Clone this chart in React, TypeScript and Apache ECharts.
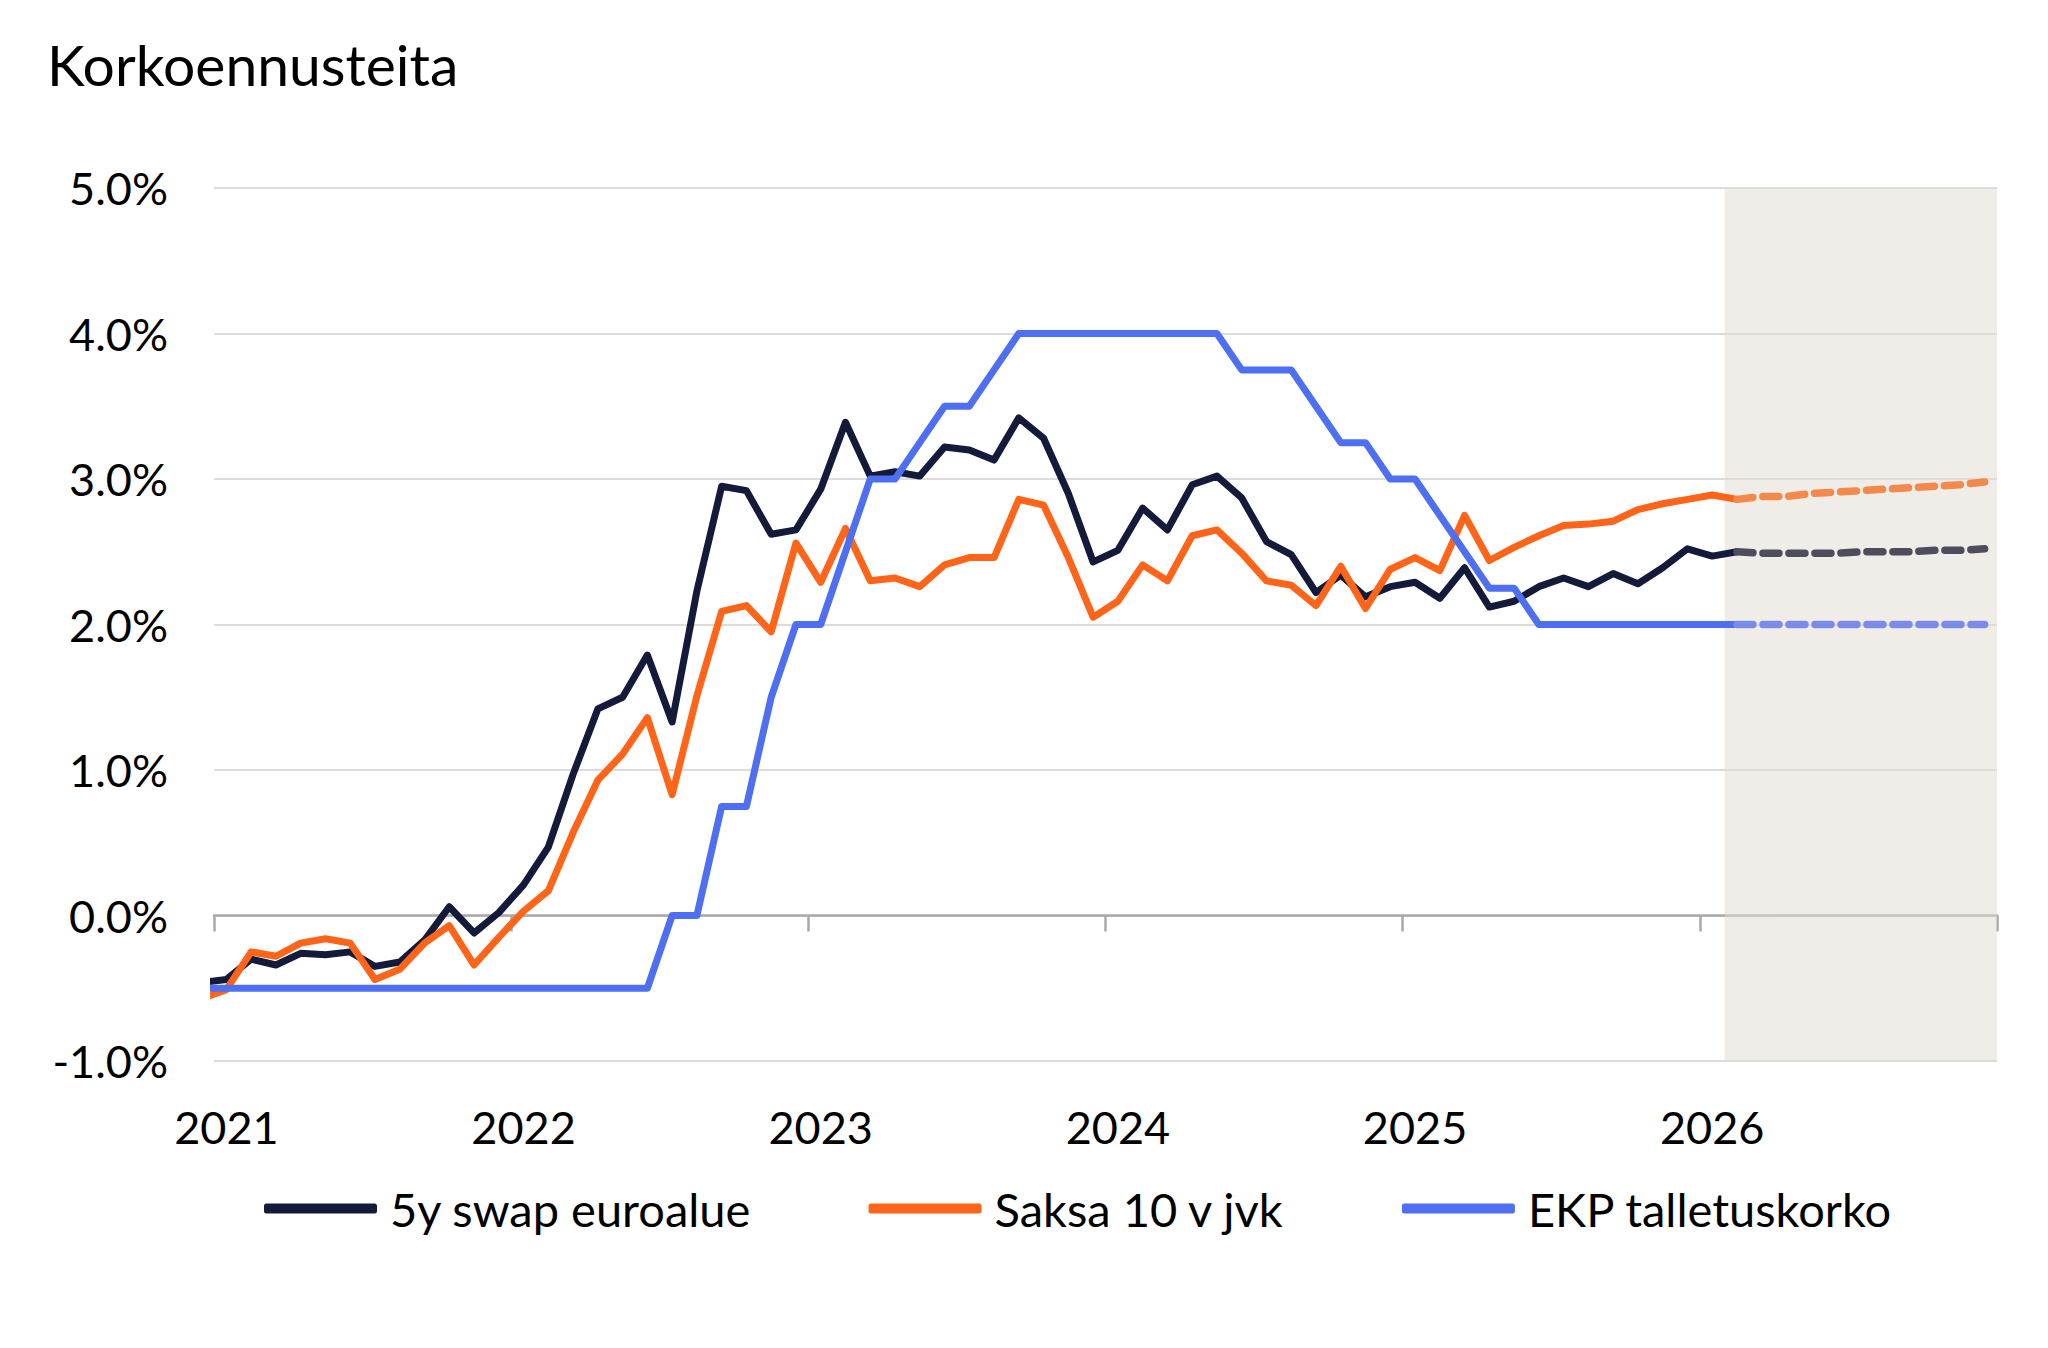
import React, { useEffect, useRef } from 'react';
import * as echarts from 'echarts';

// Month index of the first value (-1 = December 2020, 0 = January 2021)
const firstMonth = -1;
const forecastFirstMonth = 61;
const yearLabels = ['2021', '2022', '2023', '2024', '2025', '2026'];
const yMin = -1;
const yMax = 5;

const names = ['5y swap euroalue', 'Saksa 10 v jvk', 'EKP talletuskorko'];

const swap5y = [
  -0.46, -0.44, -0.30, -0.34, -0.26, -0.27, -0.25, -0.35, -0.32, -0.17, 0.06, -0.12, 0.02,
  0.21, 0.47, 0.97, 1.42, 1.50, 1.79, 1.33, 2.23, 2.95, 2.92, 2.62, 2.65,
  2.93, 3.39, 3.02, 3.05, 3.02, 3.22, 3.20, 3.13, 3.42, 3.28, 2.90, 2.43,
  2.51, 2.80, 2.65, 2.96, 3.02, 2.87, 2.57, 2.48, 2.22, 2.34, 2.19, 2.26,
  2.29, 2.18, 2.39, 2.12, 2.16, 2.26, 2.32, 2.26, 2.35, 2.28, 2.39, 2.52,
  2.47, 2.50,
];

const bund10 = [
  -0.57, -0.51, -0.25, -0.28, -0.19, -0.16, -0.19, -0.44, -0.37, -0.19, -0.07, -0.34, -0.15,
  0.03, 0.17, 0.57, 0.93, 1.11, 1.36, 0.83, 1.51, 2.09, 2.13, 1.95, 2.56,
  2.29, 2.66, 2.30, 2.32, 2.26, 2.41, 2.46, 2.46, 2.86, 2.82, 2.46, 2.05,
  2.16, 2.41, 2.30, 2.61, 2.65, 2.49, 2.30, 2.27, 2.13, 2.40, 2.11, 2.38,
  2.46, 2.37, 2.75, 2.44, 2.53, 2.61, 2.68, 2.69, 2.71, 2.79, 2.83, 2.86,
  2.89, 2.86,
];

const ecbRate = [
  -0.5, -0.5, -0.5, -0.5, -0.5, -0.5, -0.5, -0.5, -0.5, -0.5, -0.5, -0.5, -0.5,
  -0.5, -0.5, -0.5, -0.5, -0.5, -0.5, 0.0, 0.0, 0.75, 0.75, 1.5, 2.0,
  2.0, 2.5, 3.0, 3.0, 3.25, 3.5, 3.5, 3.75, 4.0, 4.0, 4.0, 4.0,
  4.0, 4.0, 4.0, 4.0, 4.0, 3.75, 3.75, 3.75, 3.5, 3.25, 3.25, 3.0,
  3.0, 2.75, 2.5, 2.25, 2.25, 2.0, 2.0, 2.0, 2.0, 2.0, 2.0, 2.0,
  2.0, 2.0,
];

const swap5yForecast = [2.50, 2.49, 2.49, 2.49, 2.49, 2.50, 2.50, 2.50, 2.51, 2.51, 2.52];
const bund10Forecast = [2.86, 2.88, 2.88, 2.90, 2.91, 2.92, 2.93, 2.94, 2.95, 2.96, 2.98];
const ecbRateForecast = [2.0, 2.0, 2.0, 2.0, 2.0, 2.0, 2.0, 2.0, 2.0, 2.0, 2.0];

const FONT = 'Lato, "Open Sans", sans-serif';
const COLORS = ['#131a3a', '#ff6418', '#4f6ff2'];
const FORECAST_COLORS = ['#4d4d5e', '#f38a4c', '#7a8be8'];

const toPoints = (values: number[], start: number) =>
  values.map((v, k) => [start + k + 0.5, v]);

export default function App() {
  const ref = useRef<HTMLDivElement>(null);

  useEffect(() => {
    document.body.style.margin = '0';
    const chart = echarts.init(ref.current as HTMLDivElement, null, { renderer: 'svg' });
    const totalMonths = yearLabels.length * 12;

    const solid = [swap5y, bund10, ecbRate];
    const forecast = [swap5yForecast, bund10Forecast, ecbRateForecast];

    const series: any[] = [];
    solid.forEach((vals, i) => {
      series.push({
        name: names[i],
        type: 'line',
        data: toPoints(vals, firstMonth),
        xAxisIndex: 0,
        yAxisIndex: 0,
        showSymbol: false,
        symbol: 'none',
        clip: true,
        z: 3 + i,
        color: COLORS[i],
        lineStyle: { color: COLORS[i], width: 7, join: 'round', cap: 'round' },
      });
    });
    forecast.forEach((vals, i) => {
      const s: any = {
        name: names[i] + ' ennuste',
        type: 'line',
        data: toPoints(vals, forecastFirstMonth),
        xAxisIndex: 0,
        yAxisIndex: 0,
        showSymbol: false,
        symbol: 'none',
        clip: true,
        z: 3 + i,
        color: FORECAST_COLORS[i],
        lineStyle: { color: FORECAST_COLORS[i], width: 7.5, type: [16, 10], cap: 'round', join: 'round' },
      };
      if (i === 0) {
        s.markArea = {
          silent: true,
          itemStyle: { color: 'rgba(226,218,207,0.5)' },
          data: [[{ xAxis: forecastFirstMonth, yAxis: yMin }, { xAxis: totalMonths, yAxis: yMax }]],
        };
      }
      series.push(s);
    });

    const option: any = {
      animation: false,
      backgroundColor: '#ffffff',
      title: {
        text: 'Korkoennusteita',
        left: 42,
        top: 30,
        textStyle: { fontFamily: FONT, fontSize: 57, fontWeight: 'normal', color: '#000' },
      },
      legend: {
        data: names,
        left: 259,
        top: 1180,
        icon: 'roundRect',
        itemWidth: 113,
        itemHeight: 10,
        itemGap: 117,
        textStyle: { fontFamily: FONT, fontSize: 47, color: '#000', padding: [0, 0, 0, 8] },
      },
      grid: { left: 214, right: 51, top: 188, bottom: 287, containLabel: false },
      xAxis: [
        {
          type: 'value',
          min: 0,
          max: totalMonths,
          interval: 12,
          position: 'bottom',
          axisLine: { show: false, onZero: false },
          axisTick: { show: false },
          splitLine: { show: false },
          axisLabel: {
            customValues: yearLabels.map((_, k) => k * 12 + 0.5),
            formatter: (v: number) => yearLabels[Math.floor(v / 12)] ?? '',
            fontFamily: FONT,
            fontSize: 45,
            color: '#000',
            margin: 43,
          },
        },
        {
          type: 'value',
          min: 0,
          max: totalMonths,
          interval: 12,
          position: 'bottom',
          axisLine: { show: true, onZero: true, lineStyle: { color: '#a9a9a9', width: 2.5 } },
          axisTick: { show: true, length: 16, lineStyle: { color: '#a9a9a9', width: 2.5 } },
          axisLabel: { show: false },
          splitLine: { show: false },
        },
      ],
      yAxis: {
        type: 'value',
        min: yMin,
        max: yMax,
        interval: 1,
        axisLine: { show: false },
        axisTick: { show: false },
        splitLine: { show: true, lineStyle: { color: '#dcdcdc', width: 2 } },
        axisLabel: {
          formatter: (v: number) => v.toFixed(1) + '%',
          fontFamily: FONT,
          fontSize: 45,
          color: '#000',
          margin: 46,
        },
      },
      series,
    };

    chart.setOption(option);
    return () => chart.dispose();
  }, []);

  return <div ref={ref} style={{ width: 2048, height: 1348 }} />;
}
